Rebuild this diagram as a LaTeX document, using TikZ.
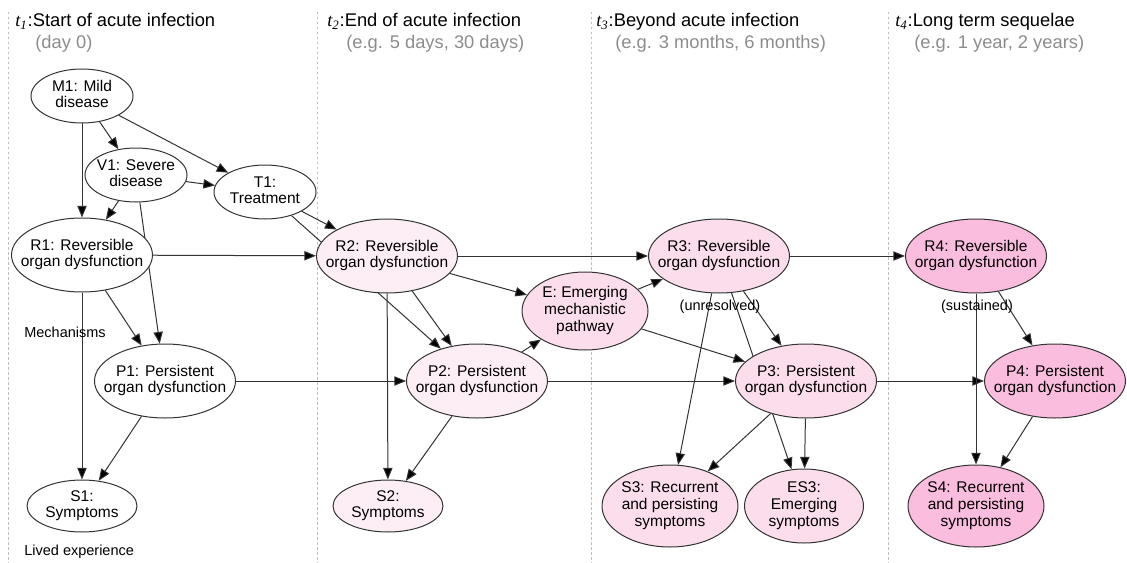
\documentclass[tikz,border=0pt]{standalone}
\usepackage{fontspec}
\setmainfont{Liberation Sans}
\newfontfamily\timefont{Liberation Serif}
\usetikzlibrary{arrows.meta,positioning,shapes.geometric}
\pgfdeclarelayer{back}
\pgfdeclarelayer{wires}
\pgfsetlayers{back,wires,main}

\definecolor{ink}{RGB}{51,51,51}
\definecolor{pinkA}{RGB}{253,237,245}
\definecolor{pinkB}{RGB}{252,221,236}
\definecolor{pinkC}{RGB}{250,189,222}
\definecolor{hint}{RGB}{140,140,140}
\definecolor{rule}{RGB}{190,190,190}

\newcommand{\ovtext}[1]{\makebox[0pt]{\begin{tabular}{@{}c@{}}#1\end{tabular}}}
\newcommand{\tstep}[1]{{\timefont\itshape t\textsubscript{#1}}:}

\begin{document}
\begin{tikzpicture}[x=0.6pt, y=-0.6pt,
    state/.style={ellipse,draw=ink,line width=0.6pt,inner sep=0pt,fill=white,
                  font=\fontsize{9.3}{10}\selectfont},
    small/.style={state,minimum width=61.2pt,minimum height=32.4pt},
    organ/.style={state,minimum width=84.6pt,minimum height=44.4pt},
    symp/.style={state,minimum width=66pt,minimum height=31.2pt},
    longsymp/.style={state,minimum width=81.6pt,minimum height=49.2pt},
    head/.style={font=\fontsize{11}{13}\selectfont,inner sep=0pt,anchor=base west},
    sub/.style={head,text=hint},
    note/.style={font=\fontsize{8.7}{10}\selectfont,inner sep=0pt},
    link/.style={draw=ink,line width=0.6pt,-{Triangle[length=7pt,width=5.6pt]}},
    sep/.style={draw=rule,line width=0.5pt,dash pattern=on 1.5pt off 1.5pt},
   ]
    \useasboundingbox (0,0) rectangle (1127,563);

    % time headings
    \node (head1) [head] at (15,27)  {\tstep{1}Start of acute infection};
    \node (sub1)  [sub]  at (35,49)  {(day 0)};
    \node (head2) [head] at (327,27) {\tstep{2}End of acute infection};
    \node (sub2)  [sub]  at (346,49) {(e.g. 5 days, 30 days)};
    \node (head3) [head] at (596,27) {\tstep{3}Beyond acute infection};
    \node (sub3)  [sub]  at (615,49) {(e.g. 3 months, 6 months)};
    \node (head4) [head] at (895,27) {\tstep{4}Long term sequelae};
    \node (sub4)  [sub]  at (914,49) {(e.g. 1 year, 2 years)};

    % t1
    \node (m1) [small] at (82,96)   {\ovtext{M1: Mild\\disease}};
    \node (v1) [small] at (136,175) {\ovtext{V1: Severe\\disease}};
    \node (t1) [small] at (265,192) {\ovtext{T1:\\Treatment}};
    \node (r1) [organ] at (82,255)  {\ovtext{R1: Reversible\\organ dysfunction}};
    \node (p1) [organ] at (165,381) {\ovtext{P1: Persistent\\organ dysfunction}};
    \node (s1) [symp]  at (82,506)  {\ovtext{S1:\\Symptoms}};
    \node (mech)  [note,anchor=west] at (24,332) {Mechanisms};
    \node (lived) [note,anchor=west] at (24,552) {Lived experience};

    % t2
    \node (r2) [organ,fill=pinkA] at (387,256) {\ovtext{R2: Reversible\\organ dysfunction}};
    \node (p2) [organ,fill=pinkA] at (477,381) {\ovtext{P2: Persistent\\organ dysfunction}};
    \node (s2) [symp,fill=pinkA]  at (388,506) {\ovtext{S2:\\Symptoms}};

    % t3
    \node (e)   [state,minimum width=75.6pt,minimum height=46.8pt,fill=pinkB] at (585,311)
                {\ovtext{E: Emerging\\mechanistic\\pathway}};
    \node (r3)  [organ,fill=pinkB] at (719,256) {\ovtext{R3: Reversible\\organ dysfunction}};
    \node (p3)  [organ,fill=pinkB] at (806,381) {\ovtext{P3: Persistent\\organ dysfunction}};
    \node (s3)  [longsymp,fill=pinkB] at (670,506) {\ovtext{S3: Recurrent\\and persisting\\symptoms}};
    \node (es3) [state,minimum width=71.4pt,minimum height=44.4pt,fill=pinkB] at (804,506)
                {\ovtext{ES3:\\Emerging\\symptoms}};
    \node (unres) [note] at (720,307) {(unresolved)};

    % t4
    \node (r4) [organ,fill=pinkC] at (976,256)  {\ovtext{R4: Reversible\\organ dysfunction}};
    \node (p4) [organ,fill=pinkC] at (1055,381) {\ovtext{P4: Persistent\\organ dysfunction}};
    \node (s4) [longsymp,fill=pinkC] at (976,506) {\ovtext{S4: Recurrent\\and persisting\\symptoms}};
    \node (sust) [note] at (977,307) {(sustained)};

    \begin{pgfonlayer}{back}
    \foreach \x in {8,317,591,888}
        \draw[sep] (\x,12) -- (\x,563);
    \end{pgfonlayer}

    \begin{pgfonlayer}{wires}
    \draw[link] (m1) edge (r1) edge (v1) edge (t1);
    \draw[link] (v1) edge (t1) edge (r1) edge (p1);
    \draw[link] (t1) edge (r2) edge (p2);
    \draw[link] (r1) edge (r2) edge (p1) edge (s1);
    \draw[link] (p1) edge (p2) edge (s1);
    \draw[link] (r2) edge (r3) edge (p2) edge (s2) edge (e);
    \draw[link] (p2) edge (p3) edge (s2) edge (e);
    \draw[link] (e)  edge (r3) edge (p3);
    \draw[link] (r3) edge (r4) edge (p3) edge (s3) edge (es3);
    \draw[link] (p3) edge (p4) edge (s3) edge (es3);
    \draw[link] (r4) edge (p4) edge (s4);
    \draw[link] (p4) edge (s4);
    \end{pgfonlayer}
\end{tikzpicture}
\end{document}
